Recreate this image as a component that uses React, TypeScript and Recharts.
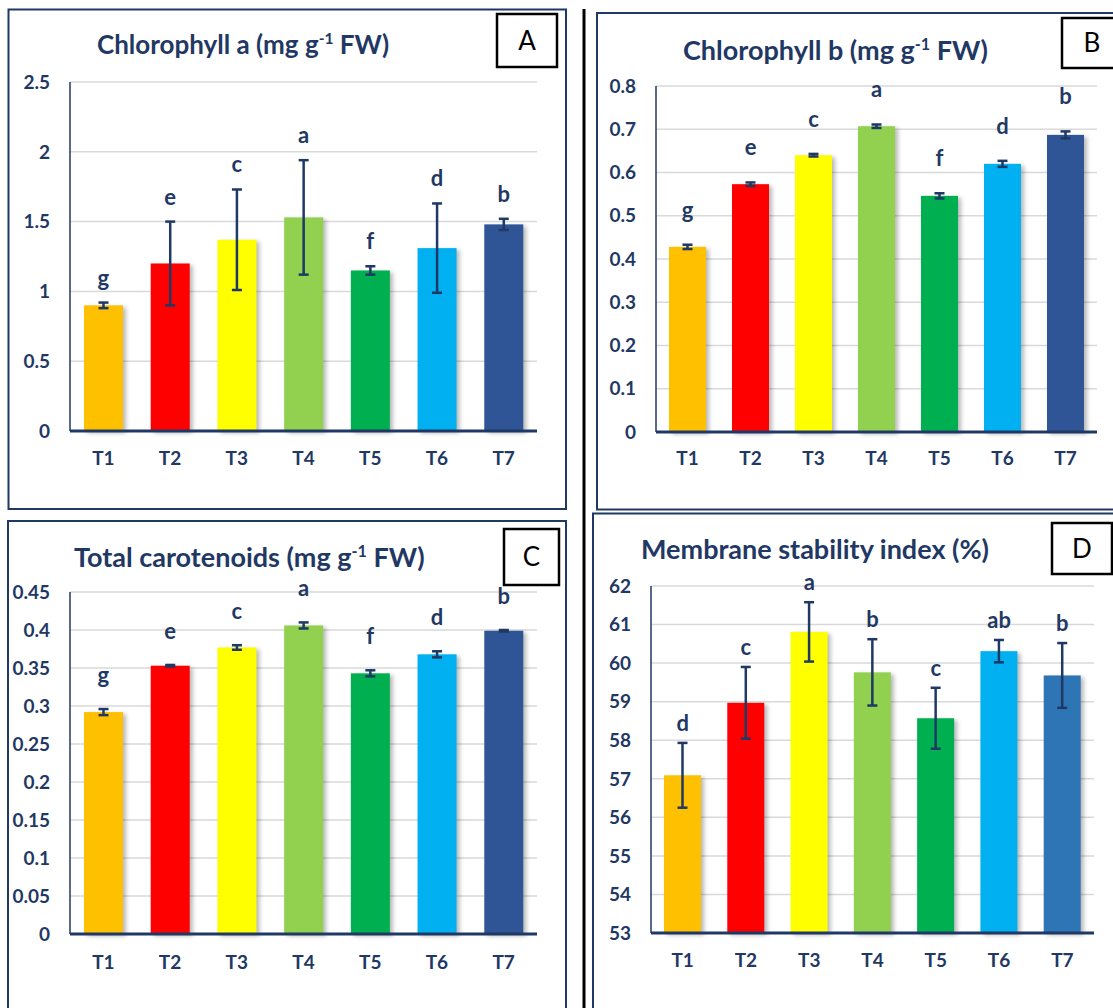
import React from "react"
import { ComposedChart, Bar, Cell, ErrorBar, Scatter, XAxis, YAxis, CartesianGrid } from "recharts"

const NAVY = "#1F3864"
const FONT = "Lato, 'Open Sans', sans-serif"

const TREATMENTS = ["T1", "T2", "T3", "T4", "T5", "T6", "T7"]

const COLORS = ["#FFC000", "#FF0000", "#FFFF00", "#92D050", "#00B050", "#00B0F0", "#2F5597"]
const COLORS_D = ["#FFC000", "#FF0000", "#FFFF00", "#92D050", "#00B050", "#00B0F0", "#2E75B6"]

// A - chlorophyll a
const CHL_A = [0.9, 1.2, 1.37, 1.53, 1.15, 1.31, 1.48]
const CHL_A_SE = [0.02, 0.3, 0.36, 0.41, 0.03, 0.32, 0.04]
const CHL_A_LETTERS = ["g", "e", "c", "a", "f", "d", "b"]
const CHL_A_TICKS = [0, 0.5, 1, 1.5, 2, 2.5]

// B - chlorophyll b
const CHL_B = [0.428, 0.573, 0.64, 0.707, 0.546, 0.62, 0.687]
const CHL_B_SE = [0.005, 0.004, 0.003, 0.004, 0.006, 0.007, 0.008]
const CHL_B_LETTERS = ["g", "e", "c", "a", "f", "d", "b"]
const CHL_B_TICKS = [0, 0.1, 0.2, 0.3, 0.4, 0.5, 0.6, 0.7, 0.8]

// C - total carotenoids
const CAROT = [0.292, 0.353, 0.377, 0.406, 0.343, 0.368, 0.399]
const CAROT_SE = [0.004, 0.001, 0.003, 0.004, 0.004, 0.004, 0.001]
const CAROT_LETTERS = ["g", "e", "c", "a", "f", "d", "b"]
const CAROT_TICKS = [0, 0.05, 0.1, 0.15, 0.2, 0.25, 0.3, 0.35, 0.4, 0.45]

// D - membrane stability index
const MSI = [57.09, 58.97, 60.81, 59.76, 58.57, 60.31, 59.68]
const MSI_SE = [0.84, 0.93, 0.77, 0.86, 0.79, 0.29, 0.84]
const MSI_LETTERS = ["d", "c", "a", "b", "c", "ab", "b"]
const MSI_TICKS = [53, 54, 55, 56, 57, 58, 59, 60, 61, 62]

const axisTick = { fill: NAVY, fontSize: 19, fontWeight: 700, fontFamily: FONT }

const ShadowBar = (props: any) => {
  const { x, y, width, height, fill } = props
  if (!height || height <= 0) return null
  return (
    <rect
      x={x}
      y={y}
      width={width}
      height={height}
      fill={fill}
      style={{ filter: "drop-shadow(3px 2px 2px rgba(0,0,0,0.28))" }}
    />
  )
}

interface PanelProps {
  values: number[]
  errs: number[]
  letters: string[]
  ticks: number[]
  colors: string[]
  plot: { left: number; top: number; right: number; bottom: number }
  barSize: number
  letterGap: number
  xMargin: number
}

const TOP_PAD = 45

function Panel({ values, errs, letters, ticks, colors, plot, barSize, letterGap, xMargin }: PanelProps) {
  const data = TREATMENTS.map((t, i) => ({
    name: t,
    value: values[i],
    err: errs[i],
    top: values[i] + errs[i],
    letter: letters[i],
  }))
  const w = plot.right - plot.left + 80
  const h = plot.bottom - plot.top + TOP_PAD + 50

  return (
    <div style={{ position: "absolute", left: plot.left - 70, top: plot.top - TOP_PAD }}>
      <ComposedChart width={w} height={h} data={data} margin={{ top: TOP_PAD, right: 10, left: 10, bottom: 10 }}>
        <CartesianGrid vertical={false} stroke="#D9D9D9" strokeWidth={1.5} />
        <XAxis
          dataKey="name"
          height={40}
          interval={0}
          tickLine={false}
          tickSize={0}
          tickMargin={xMargin}
          axisLine={{ stroke: NAVY, strokeWidth: 3 }}
          tick={axisTick}
        />
        <YAxis
          width={60}
          domain={[ticks[0], ticks[ticks.length - 1]]}
          ticks={ticks}
          tickLine={false}
          tickSize={0}
          tickMargin={20}
          axisLine={{ stroke: NAVY, strokeWidth: 1.5 }}
          tick={axisTick}
        />
        <Bar dataKey="value" barSize={barSize} shape={ShadowBar} isAnimationActive={false}>
          {data.map((d, i) => (
            <Cell key={d.name} fill={colors[i]} />
          ))}
          <ErrorBar dataKey="err" width={5} strokeWidth={2.5} stroke={NAVY} direction="y" />
        </Bar>
        <Scatter
          dataKey="top"
          isAnimationActive={false}
          shape={(p: any) => (
            <text
              x={p.cx}
              y={p.cy - letterGap}
              textAnchor="middle"
              fill={NAVY}
              fontSize={22}
              fontWeight={700}
              fontFamily={FONT}
            >
              {p.payload.letter}
            </text>
          )}
        />
      </ComposedChart>
    </div>
  )
}

function Title({ x, y, size, main, tail }: { x: number; y: number; size: number; main: string; tail: string }) {
  return (
    <text x={x} y={y} fontSize={size} fontWeight={700} fill={NAVY} fontFamily={FONT}>
      {main}
      {tail ? (
        <>
          <tspan dy={-10} fontSize={size * 0.6}>-1</tspan>
          <tspan dy={10}>{tail}</tspan>
        </>
      ) : null}
    </text>
  )
}

function LabelBox({ x, y, w, h, label }: { x: number; y: number; w: number; h: number; label: string }) {
  return (
    <g>
      <rect x={x} y={y} width={w} height={h} fill="#fff" stroke="#000" strokeWidth={2.5} />
      <text
        x={x + w / 2}
        y={y + h / 2 + 9}
        textAnchor="middle"
        fontSize={26}
        fontFamily={FONT}
        fill="#000"
      >
        {label}
      </text>
    </g>
  )
}

export default function App() {
  return (
    <div style={{ position: "absolute", left: 0, top: 0, width: 1113, height: 1008, background: "#fff", overflow: "hidden" }}>
      <svg width={1113} height={1008} style={{ position: "absolute", left: 0, top: 0 }}>
        <rect x={8.5} y={9.5} width={557.5} height={499.5} fill="none" stroke={NAVY} strokeWidth={2} />
        <rect x={597} y={13} width={530} height={496.5} fill="none" stroke={NAVY} strokeWidth={2} />
        <rect x={8} y={521} width={558} height={500} fill="none" stroke={NAVY} strokeWidth={2} />
        <rect x={593} y={513.5} width={530} height={500} fill="none" stroke={NAVY} strokeWidth={2} />
        <line x1={584} y1={9} x2={584} y2={1008} stroke="#000" strokeWidth={3} />

        <Title x={97} y={54} size={26} main="Chlorophyll a (mg g" tail=" FW)" />
        <Title x={683} y={60} size={27} main="Chlorophyll b (mg g" tail=" FW)" />
        <Title x={74} y={567} size={27} main="Total carotenoids (mg g" tail=" FW)" />
        <Title x={641} y={559} size={27} main="Membrane stability index (%)" tail="" />

        <LabelBox x={497} y={14} w={60} h={53} label="A" />
        <LabelBox x={1062} y={18} w={60} h={50} label="B" />
        <LabelBox x={504} y={529} w={55} h={56} label="C" />
        <LabelBox x={1052} y={523} w={60} h={51} label="D" />
      </svg>

      <Panel
        values={CHL_A}
        errs={CHL_A_SE}
        letters={CHL_A_LETTERS}
        ticks={CHL_A_TICKS}
        colors={COLORS}
        plot={{ left: 70, top: 82, right: 537, bottom: 431 }}
        barSize={39}
        letterGap={17}
        xMargin={21}
      />
      <Panel
        values={CHL_B}
        errs={CHL_B_SE}
        letters={CHL_B_LETTERS}
        ticks={CHL_B_TICKS}
        colors={COLORS}
        plot={{ left: 656, top: 86, right: 1097, bottom: 432 }}
        barSize={37}
        letterGap={27}
        xMargin={20}
      />
      <Panel
        values={CAROT}
        errs={CAROT_SE}
        letters={CAROT_LETTERS}
        ticks={CAROT_TICKS}
        colors={COLORS}
        plot={{ left: 70, top: 592, right: 537, bottom: 934 }}
        barSize={39}
        letterGap={26}
        xMargin={22}
      />
      <Panel
        values={MSI}
        errs={MSI_SE}
        letters={MSI_LETTERS}
        ticks={MSI_TICKS}
        colors={COLORS_D}
        plot={{ left: 651, top: 586, right: 1094, bottom: 933 }}
        barSize={37}
        letterGap={12}
        xMargin={21}
      />
    </div>
  )
}
